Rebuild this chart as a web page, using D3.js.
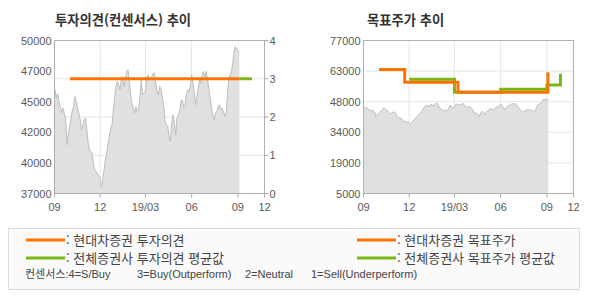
<!DOCTYPE html>
<html lang="ko">
<head>
  <meta charset="UTF-8">
  <title>투자의견 / 목표주가 추이</title>
  <script src="https://d3js.org/d3.v7.min.js"></script>
  <style>
    body {
      margin: 0;
      background: white;
      font-family: "Liberation Sans", "Noto Sans CJK KR", sans-serif;
    }
    .tick-label {
      font-size: 11px;
      fill: #5a5a5a;
    }
    .title {
      font-family: "Noto Sans CJK KR", sans-serif;
      font-size: 13.3px;
      font-weight: bold;
      fill: #333;
    }
    .legend-text {
      font-family: "Noto Sans CJK KR", sans-serif;
      font-size: 13px;
      fill: #444;
    }
    .cons-text {
      font-size: 11px;
      fill: #444;
    }
  </style>
</head>
<body>
<svg width="590" height="300"></svg>
<script>
  // x axis
  const xTickDates = ["2018-09-01", "2018-12-01", "2019-03-01", "2019-06-01", "2019-09-01", "2019-10-24"];
  const xTickLabels = ["09", "12", "19/03", "06", "09", "12"];

  // left axis tick labels (price, as printed)
  const leftPriceLabels = ["50000", "47000", "45000", "42000", "40000", "37000"];
  const opinionTicks = [0, 1, 2, 3, 4];
  const targetLabels = ["77000", "63000", "48000", "34000", "19000", "5000"];

  // daily close (sampled), 2018-09-02 .. 2019-09-04
  const priceFirst = "2018-09-02";
  const priceLast = "2019-09-04";
  const prices = [
    45860, 45100, 45470, 44800, 44300, 43880, 44250, 43820, 43400, 41140,
    41990, 42690, 43260, 43970, 44390, 45240, 44820, 44250, 43820, 43260,
    42410, 42840, 43260, 43400, 42410, 41270, 40710, 40570, 40420, 39440,
    39010, 38870, 38730, 38440, 38300, 37500, 38160, 39010, 39860, 40420,
    41270, 41840, 42550, 42840, 44110,
    45240, 46090, 46520, 46230, 45810, 46660, 46940, 46090, 46660, 47370,
    47510, 46660, 45390, 44670, 44250, 43820, 44390, 43970, 44110, 45100,
    46660, 45390, 45520, 45670, 46660, 47090, 46800, 46660, 46940, 47220,
    47220, 46370, 45670, 45390, 46090, 45810, 45100, 44390, 43120, 42840,
    42690, 41840, 41420, 42980, 43690, 42980, 41990,
    43400, 43690, 43970, 44820, 44960, 44250, 44390, 45390, 45810, 45670,
    46090, 47090, 46370, 45520, 44540, 45240, 45950, 46660, 46370, 47090,
    47370, 46940, 47370, 46660, 45810, 45100, 44250, 43690, 43260, 43820,
    43970, 44390, 44540, 44110, 44250, 43970, 43540, 43820, 45390, 46800,
    47090, 47370, 48070, 49060, 49490, 49210, 49060, 49060
  ];

  // 투자의견 (step)
  const hdOpinionDates = ["2018-10-02", "2019-09-04"];
  const hdOpinion = [3, 3];
  const avgOpinionDates = ["2019-09-04", "2019-09-29"];
  const avgOpinion = [3, 3];

  // 목표주가 (step)
  const hdTargetDates = ["2018-10-02", "2018-11-22", "2019-03-08", "2019-09-03"];
  const hdTarget = [63400, 57400, 52700, 62100];
  const avgTargetDates = ["2018-12-01", "2019-03-01", "2019-06-01", "2019-09-01", "2019-09-28"];
  const avgTarget = [58800, 52600, 54100, 56100, 61300];

  const ORANGE = "#ff7200";
  const GREEN = "#77b814";

  const parse = d3.timeParse("%Y-%m-%d");
  const svg = d3.select("svg");
  const W = 210, H = 153;

  const x = d3.scaleTime()
    .domain([parse(xTickDates[0]), parse(xTickDates[xTickDates.length - 1])])
    .range([0, W]);

  const idx = d3.scaleLinear().domain([0, prices.length - 1])
    .range([parse(priceFirst), parse(priceLast)]);
  const priceData = prices.map((v, i) => ({ date: new Date(idx(i)), v }));

  function frame(g) {
    g.append("rect").attr("width", W).attr("height", H)
      .attr("fill", "white");
  }

  function xAxis(g) {
    const dates = xTickDates.map(parse);
    g.selectAll(".vgrid").data(dates.slice(1, -1)).enter().append("line")
      .attr("x1", d => x(d)).attr("x2", d => x(d))
      .attr("y1", 0).attr("y2", H)
      .attr("stroke", "#e6e6e6");
    g.selectAll(".xtick").data(dates).enter().append("line")
      .attr("x1", d => x(d)).attr("x2", d => x(d))
      .attr("y1", H).attr("y2", H + 4)
      .attr("stroke", "#aaa");
    g.selectAll(".xlab").data(dates).enter().append("text")
      .attr("class", "tick-label")
      .attr("x", d => x(d)).attr("y", H + 17)
      .attr("text-anchor", "middle")
      .text((d, i) => xTickLabels[i]);
  }

  function border(g) {
    g.append("rect").attr("width", W).attr("height", H)
      .attr("fill", "none").attr("stroke", "#b0b0b0");
  }

  function stepLine(g, dates, vals, y, color) {
    const pts = dates.map((d, i) => [x(parse(d)), y(vals[i])]);
    g.append("path")
      .attr("d", d3.line().curve(d3.curveStepAfter)(pts))
      .attr("fill", "none").attr("stroke", color).attr("stroke-width", 3);
  }

  function priceArea(g, y) {
    g.append("path").datum(priceData)
      .attr("d", d3.area().x(d => x(d.date)).y0(H).y1(d => y(d.v)))
      .attr("fill", "#e0e0e0");
    g.append("path").datum(priceData)
      .attr("d", d3.line().x(d => x(d.date)).y(d => y(d.v)))
      .attr("fill", "none").attr("stroke", "#bdbdbd").attr("stroke-width", 1);
  }

  // ---- left chart: 투자의견(컨센서스) 추이
  const g1 = svg.append("g").attr("transform", "translate(54.5,40.5)");
  const yPrice1 = d3.scaleLinear().domain([37000, 50000]).range([H, 0]);
  const yOp = d3.scaleLinear().domain([0, 4]).range([H, 0]);
  const yLab1 = d3.scalePoint().domain(leftPriceLabels).range([0, H]);

  frame(g1);
  g1.selectAll(".hgrid").data(opinionTicks.slice(1, -1)).enter().append("line")
    .attr("x1", 0).attr("x2", W)
    .attr("y1", d => yOp(d)).attr("y2", d => yOp(d))
    .attr("stroke", "#e6e6e6");
  xAxis(g1);
  priceArea(g1, yPrice1);
  stepLine(g1, avgOpinionDates, avgOpinion, yOp, GREEN);
  stepLine(g1, hdOpinionDates, hdOpinion, yOp, ORANGE);
  border(g1);

  g1.selectAll(".ylab").data(leftPriceLabels).enter().append("text")
    .attr("class", "tick-label")
    .attr("x", -3).attr("y", d => yLab1(d) + 4)
    .attr("text-anchor", "end")
    .text(d => d);
  g1.selectAll(".rtick").data(opinionTicks).enter().append("line")
    .attr("x1", W).attr("x2", W + 4)
    .attr("y1", d => yOp(d)).attr("y2", d => yOp(d))
    .attr("stroke", "#aaa");
  g1.selectAll(".rlab").data(opinionTicks).enter().append("text")
    .attr("class", "tick-label")
    .attr("x", W + 5).attr("y", d => yOp(d) + 4)
    .text(d => d);

  svg.append("text").attr("class", "title")
    .attr("x", 55).attr("y", 25).text("투자의견(컨센서스) 추이");

  // ---- right chart: 목표주가 추이
  const g2 = svg.append("g").attr("transform", "translate(363.5,40.5)");
  const yPrice2 = d3.scaleLinear().domain([5000, 77000]).range([H, 0]);
  const yLab2 = d3.scalePoint().domain(targetLabels).range([0, H]);

  frame(g2);
  g2.selectAll(".hgrid").data(targetLabels.slice(1, -1)).enter().append("line")
    .attr("x1", 0).attr("x2", W)
    .attr("y1", d => yLab2(d)).attr("y2", d => yLab2(d))
    .attr("stroke", "#e6e6e6");
  xAxis(g2);
  priceArea(g2, yPrice2);
  stepLine(g2, avgTargetDates, avgTarget, yPrice2, GREEN);
  stepLine(g2, hdTargetDates, hdTarget, yPrice2, ORANGE);
  border(g2);

  g2.selectAll(".ylab").data(targetLabels).enter().append("text")
    .attr("class", "tick-label")
    .attr("x", -3).attr("y", d => yLab2(d) + 4)
    .attr("text-anchor", "end")
    .text(d => d);

  svg.append("text").attr("class", "title")
    .attr("x", 367).attr("y", 25).text("목표주가 추이");

  // ---- legend
  const legendItems = [
    { x: 26, y: 240, color: ORANGE, label: ": 현대차증권 투자의견" },
    { x: 26, y: 258, color: GREEN, label: ": 전체증권사 투자의견 평균값" },
    { x: 357, y: 240, color: ORANGE, label: ": 현대차증권 목표주가" },
    { x: 357, y: 258, color: GREEN, label: ": 전체증권사 목표주가 평균값" }
  ];
  const consensus = [
    { x: 25, t: "컨센서스:4=S/Buy" },
    { x: 137, t: "3=Buy(Outperform)" },
    { x: 245, t: "2=Neutral" },
    { x: 311, t: "1=Sell(Underperform)" }
  ];

  svg.append("rect")
    .attr("x", 8.5).attr("y", 228.5).attr("width", 571).attr("height", 61)
    .attr("fill", "#fafafa").attr("stroke", "#dcdcdc");

  const li = svg.selectAll(".leg").data(legendItems).enter().append("g");
  li.append("line")
    .attr("x1", d => d.x).attr("x2", d => d.x + 39)
    .attr("y1", d => d.y).attr("y2", d => d.y)
    .attr("stroke", d => d.color).attr("stroke-width", 3);
  li.append("text").attr("class", "legend-text")
    .attr("x", d => d.x + 40).attr("y", d => d.y + 4.5)
    .text(d => d.label);

  svg.selectAll(".cons").data(consensus).enter().append("text")
    .attr("class", "cons-text")
    .attr("x", d => d.x).attr("y", 278)
    .text(d => d.t);
</script>
</body>
</html>
